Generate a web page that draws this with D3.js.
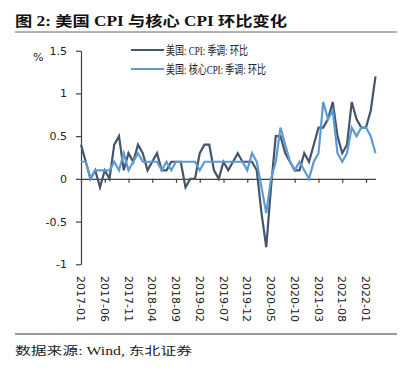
<!DOCTYPE html>
<html><head><meta charset="utf-8">
<script src="https://cdn.jsdelivr.net/npm/d3@7/dist/d3.min.js"></script>
<style>
html,body{margin:0;padding:0;background:#fff;}
svg{display:block;}
</style></head>
<body>
<svg id="chart" width="413" height="370"></svg>
<script>
const title = "图 2:  美国 CPI 与核心 CPI 环比变化";
const source = "数据来源:  Wind, 东北证券";
const seriesNames = ["美国: CPI: 季调: 环比", "美国: 核心CPI: 季调: 环比"];
const months = [];
for (let yr = 2017; yr <= 2022; yr++) for (let m = 1; m <= 12; m++) {
  if (yr === 2022 && m > 3) break;
  months.push(yr + "-" + String(m).padStart(2, "0"));
}
const cpi = [0.4,0.2,0.0,0.1,-0.1,0.1,0.0,0.4,0.5,0.1,0.3,0.2,
             0.4,0.3,0.1,0.2,0.3,0.1,0.1,0.2,0.2,0.2,-0.1,0.0,
             0.0,0.3,0.4,0.4,0.1,0.0,0.2,0.1,0.2,0.3,0.2,0.2,
             0.2,0.1,-0.4,-0.8,-0.1,0.5,0.5,0.3,0.2,0.1,0.1,0.3,
             0.2,0.4,0.6,0.6,0.7,0.9,0.5,0.3,0.4,0.9,0.7,0.6,
             0.6,0.8,1.2];
const core = [0.2,0.2,0.0,0.1,0.1,0.1,0.1,0.2,0.1,0.3,0.1,0.2,
              0.3,0.2,0.2,0.2,0.2,0.1,0.2,0.1,0.2,0.2,0.2,0.2,
              0.2,0.1,0.2,0.2,0.2,0.2,0.2,0.2,0.2,0.2,0.2,0.1,
              0.3,0.2,-0.1,-0.4,0.0,0.2,0.6,0.4,0.2,0.1,0.2,0.1,
              0.0,0.2,0.3,0.9,0.7,0.8,0.3,0.2,0.3,0.6,0.5,0.6,
              0.6,0.5,0.3];
const yTicks = [-1, -0.5, 0, 0.5, 1, 1.5];
const xTickLabels = ["2017-01","2017-06","2017-11","2018-04","2018-09","2019-02","2019-07","2019-12","2020-05","2020-10","2021-03","2021-08","2022-01"];
const colors = ["#44546A", "#5B9BD5"];

const svg = d3.select("#chart");
const serif = "'Liberation Serif','Noto Sans CJK SC',serif";
const sans = "'DejaVu Sans','Noto Sans CJK SC',sans-serif";

// title
svg.append("text").attr("x", 15).attr("y", 26).text(title)
  .attr("font-family", serif).attr("font-weight", "bold").attr("font-size", 14)
  .attr("fill", "#111").attr("textLength", 272).attr("lengthAdjust", "spacingAndGlyphs");
svg.append("line").attr("x1", 15).attr("x2", 397).attr("y1", 32).attr("y2", 32)
  .attr("stroke", "#9a9a9a").attr("stroke-width", 1.5);

const x = d3.scalePoint().domain(months).range([81, 375.5]);
const y = d3.scaleLinear().domain([-1, 1.5]).range([264.3, 50.7]);

// y axis
const ya = svg.append("g").attr("transform", "translate(81,0)")
  .call(d3.axisLeft(y).tickValues(yTicks).tickSize(5).tickSizeOuter(0).tickPadding(9).tickFormat(d => String(d)));
ya.select(".domain").attr("stroke", "#404040").attr("stroke-width", 1.2);
ya.selectAll(".tick line").attr("stroke", "#404040").attr("stroke-width", 1.2);
ya.selectAll(".tick text").attr("font-family", sans).attr("font-size", 11).attr("fill", "#222");

svg.append("text").attr("x", 33).attr("y", 61).text("%")
  .attr("font-family", sans).attr("font-size", 11).attr("fill", "#222");

// x axis at zero
const xa = svg.append("g").attr("transform", `translate(0,${y(0)})`)
  .call(d3.axisBottom(x).tickValues(xTickLabels).tickSize(4).tickSizeOuter(0).tickFormat(""));
xa.select(".domain").attr("stroke", "#404040").attr("stroke-width", 1.4);
xa.selectAll(".tick line").attr("stroke", "#404040").attr("stroke-width", 1.2);

// x labels at bottom, rotated
const labY = 276;
svg.append("g").selectAll("text").data(xTickLabels).join("text")
  .attr("x", d => x(d)).attr("y", labY)
  .attr("transform", d => `rotate(90,${x(d)},${labY})`)
  .attr("dy", "0.35em").attr("text-anchor", "start")
  .attr("font-family", sans).attr("font-size", 11).attr("fill", "#222")
  .text(d => d);

// lines
const line = d3.line().x((d, i) => x(months[i])).y(d => y(d));
[cpi, core].forEach((s, k) => {
  svg.append("path").datum(s).attr("d", line)
    .attr("fill", "none").attr("stroke", colors[k]).attr("stroke-width", 2.2)
    .attr("stroke-linejoin", "miter");
});

// legend
const legY = [50, 69];
seriesNames.forEach((n, k) => {
  svg.append("line").attr("x1", 131).attr("x2", 164).attr("y1", legY[k]).attr("y2", legY[k])
    .attr("stroke", colors[k]).attr("stroke-width", 2.2);
  svg.append("text").attr("x", 166).attr("y", legY[k]).attr("dy", "0.36em").text(n)
    .attr("font-family", serif).attr("font-size", 12.5).attr("fill", "#222")
    .attr("textLength", k === 0 ? 82 : 100).attr("lengthAdjust", "spacingAndGlyphs");
});

// source
svg.append("line").attr("x1", 15).attr("x2", 397).attr("y1", 334).attr("y2", 334)
  .attr("stroke", "#333").attr("stroke-width", 1);
svg.append("text").attr("x", 15).attr("y", 355).text(source)
  .attr("font-family", serif).attr("font-size", 11.5).attr("fill", "#222")
  .attr("textLength", 177).attr("lengthAdjust", "spacingAndGlyphs");
</script>
</body></html>
